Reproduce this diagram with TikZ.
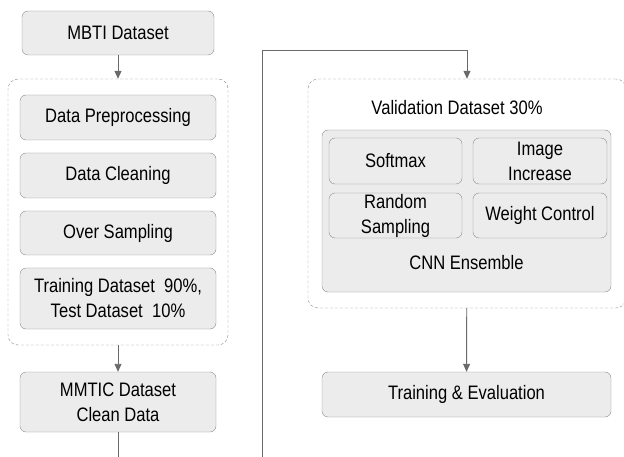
\documentclass[tikz,border=0pt]{standalone}
\usepackage{fontspec}
\setmainfont{Liberation Sans}[FakeStretch=0.85]
\usetikzlibrary{arrows.meta,positioning}
\definecolor{boxfill}{HTML}{ECECEC}
\definecolor{boxline}{HTML}{8C8C8C}
\definecolor{wireline}{HTML}{6A6A6A}

\begin{document}
\begin{tikzpicture}
    [x=1pt, y=-1pt, >={Triangle[length=8pt,width=7pt]},
     every node/.style={font=\fontsize{19.5}{25}\selectfont, inner sep=0pt},
     box/.style={rectangle, rounded corners=6pt, draw=boxline, fill=boxfill, align=center},
     group/.style={rectangle, rounded corners=10pt, draw=boxline, dash pattern=on 3pt off 2pt},
     wire/.style={draw=wireline, line width=0.9pt}]

    \useasboundingbox (0,0) rectangle (624,457);

    \begin{scope}
      \node (mbti) [box, minimum width=192pt, minimum height=44pt] at (118,33) {MBTI Dataset};
      \node (leftgrp) [group, minimum width=220pt, minimum height=266pt] at (118,212) {};

      \node (prep) [box, minimum width=196pt, minimum height=45pt] at (118,117.5) {Data Preprocessing};
      \node (clean) [box, minimum width=196pt, minimum height=45pt] at (118,175.5) {Data Cleaning};
      \node (over) [box, minimum width=196pt, minimum height=44pt] at (118,233) {Over Sampling};
      \node (split) [box, minimum width=196pt, minimum height=61pt] at (118,298.5) {Training Dataset\ \ 90\%,\\Test Dataset\ \ 10\%};

      \node (mmtic) [box, minimum width=196pt, minimum height=60pt] at (118,402) {MMTIC Dataset\\Clean Data};
      \coordinate (outL) at (118,457);
    \end{scope}

    \begin{scope}
      \node (rightgrp) [group, minimum width=318pt, minimum height=229pt] at (467,193.5) {};
      \node (valid) at (457,108) {Validation Dataset 30\%};

      \node (cnn) [box, minimum width=289pt, minimum height=162pt] at (466.5,211) {};
      \node (softmax) [box, minimum width=133pt, minimum height=46pt] at (395.5,161) {Softmax};
      \node (imginc) [box, minimum width=134pt, minimum height=46pt] at (540,161) {Image\\Increase};
      \node (randsam) [box, minimum width=133pt, minimum height=45pt] at (395.5,215.5) {Random\\Sampling};
      \node (weight) [box, minimum width=134pt, minimum height=45pt] at (540,215.5) {Weight Control};
      \node (cnnlabel) at (466.5,263) {CNN Ensemble};

      \node (train) [box, minimum width=289pt, minimum height=45pt] at (466.5,394.5) {Training \& Evaluation};
      \coordinate (inR) at (262,457);
      \coordinate (bend) at (467,50);
    \end{scope}

    \draw[wire,->] (mbti) -- (leftgrp.north);
    \draw[wire,->] (leftgrp) -- (mmtic);
    \draw[wire] (mmtic) -- (outL);
    \draw[wire,->] (inR) |- (bend) -- (rightgrp.north);
    \draw[wire,->] (rightgrp) -- (train);
\end{tikzpicture}
\end{document}
